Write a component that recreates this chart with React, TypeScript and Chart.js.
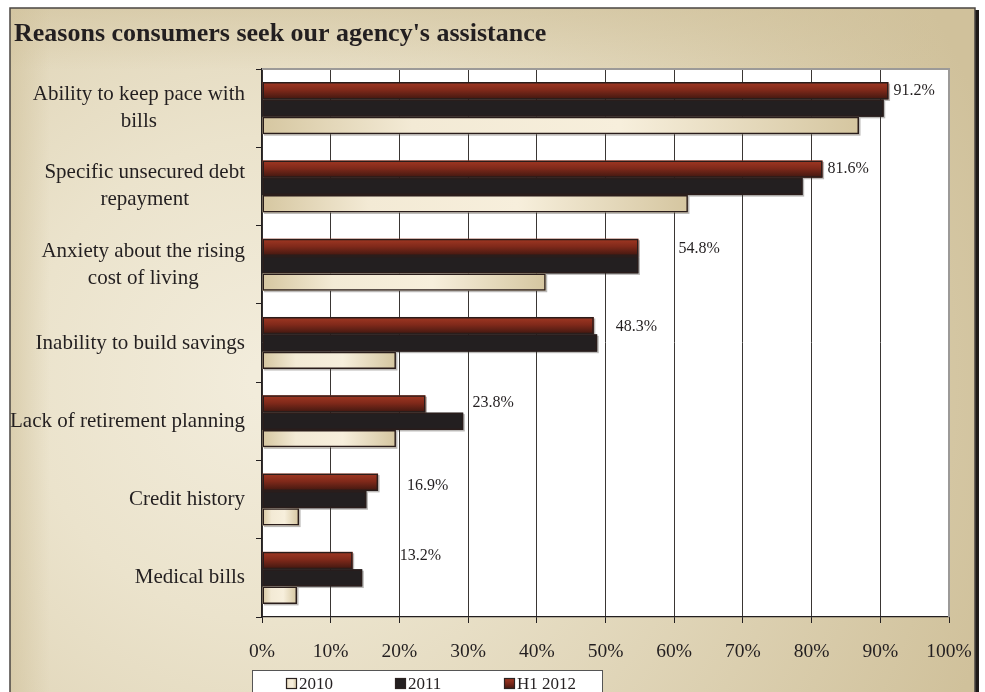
import React, { useEffect, useRef } from "react";
import { Chart, registerables } from "chart.js";

Chart.register(...registerables);

// ---------- data ----------
const titleText = "Reasons consumers seek our agency's assistance";
const categories: string[][] = [
  ["Ability to keep pace with", "bills"],
  ["Specific unsecured debt", "repayment"],
  ["Anxiety about the rising", "cost of living"],
  ["Inability to build savings"],
  ["Lack of retirement planning"],
  ["Credit history"],
  ["Medical bills"],
];
const seriesNames = ["H1 2012", "2011", "2010"];
const valuesH12012 = [91.2, 81.6, 54.8, 48.3, 23.8, 16.9, 13.2];
const values2011 = [90.5, 78.7, 54.8, 48.8, 29.3, 15.2, 14.6];
const values2010 = [86.9, 62.0, 41.3, 19.5, 19.5, 5.4, 5.1];
const xTickValues = [0, 10, 20, 30, 40, 50, 60, 70, 80, 90, 100];
const legendOrder = ["2010", "2011", "H1 2012"];

// ---------- style ----------
const SERIF = "'Liberation Serif', 'Times New Roman', serif";
const INK = "#231f20";
const labelDx = [5, 5, 40, 22, 47, 29, 47];
const labelDy = [0, 0, 1, 1, -1, 4, -5];

function fillBar(ctx: CanvasRenderingContext2D, seriesIdx: number, x0: number, y0: number, w: number, h: number) {
  let fill: string | CanvasGradient;
  if (seriesIdx === 0) {
    const g = ctx.createLinearGradient(0, y0, 0, y0 + h);
    g.addColorStop(0, "#a23823");
    g.addColorStop(0.45, "#80291a");
    g.addColorStop(1, "#3e1710");
    fill = g;
  } else if (seriesIdx === 1) {
    fill = INK;
  } else {
    const g = ctx.createLinearGradient(x0, 0, x0 + w, 0);
    g.addColorStop(0, "#d6c7a1");
    g.addColorStop(0.25, "#f3ead5");
    g.addColorStop(0.6, "#f7efdc");
    g.addColorStop(1, "#d5c6a0");
    fill = g;
  }
  ctx.fillStyle = fill;
  ctx.fillRect(x0, y0, w, h);
}

const decorPlugin = {
  id: "decor",
  beforeDraw(chart: any) {
    const ctx: CanvasRenderingContext2D = chart.ctx;
    const W = chart.width;
    const H = chart.height;
    const ca = chart.chartArea;
    ctx.save();
    ctx.fillStyle = "#ffffff";
    ctx.fillRect(0, 0, W, H);
    // right shadow
    ctx.fillStyle = "#1e1a18";
    ctx.fillRect(974, 10, 5, H);
    // panel
    const g = ctx.createRadialGradient(270, 380, 20, 270, 380, 760);
    g.addColorStop(0, "#f2ecdb");
    g.addColorStop(0.3, "#ebe3cc");
    g.addColorStop(1, "#d0c19b");
    ctx.fillStyle = g;
    ctx.fillRect(10, 8, 965, H);
    // slightly darker top band
    const tg = ctx.createLinearGradient(0, 8, 0, 70);
    tg.addColorStop(0, "rgba(208,193,155,0.55)");
    tg.addColorStop(1, "rgba(208,193,155,0)");
    ctx.fillStyle = tg;
    ctx.fillRect(10, 8, 965, 62);
    const lg = ctx.createLinearGradient(10, 0, 50, 0);
    lg.addColorStop(0, "rgba(208,193,155,0.6)");
    lg.addColorStop(1, "rgba(208,193,155,0)");
    ctx.fillStyle = lg;
    ctx.fillRect(10, 8, 40, H);
    ctx.strokeStyle = "#4a4542";
    ctx.lineWidth = 1.5;
    ctx.strokeRect(10, 8, 965, H + 10);
    // title
    ctx.fillStyle = INK;
    ctx.font = `bold 26px ${SERIF}`;
    ctx.textBaseline = "alphabetic";
    ctx.textAlign = "left";
    ctx.fillText(titleText, 14, 41);
    // plot area bg
    ctx.fillStyle = "#ffffff";
    ctx.fillRect(ca.left, ca.top, ca.right - ca.left, ca.bottom - ca.top);
    ctx.restore();
  },
  beforeDatasetsDraw(chart: any) {
    const ctx: CanvasRenderingContext2D = chart.ctx;
    ctx.save();
    // shadows
    chart.data.datasets.forEach((_: any, di: number) => {
      const meta = chart.getDatasetMeta(di);
      meta.data.forEach((el: any) => {
        const x0 = Math.min(el.base, el.x);
        const w = Math.abs(el.x - el.base);
        ctx.fillStyle = "rgba(60,55,50,0.35)";
        ctx.fillRect(x0 + 1.5, el.y - el.height / 2 + 1.5, w, el.height);
      });
    });
    chart.data.datasets.forEach((_: any, di: number) => {
      const meta = chart.getDatasetMeta(di);
      meta.data.forEach((el: any) => {
        const x0 = Math.min(el.base, el.x);
        const w = Math.abs(el.x - el.base);
        fillBar(ctx, di, x0, el.y - el.height / 2, w, el.height);
      });
    });
    ctx.restore();
  },
  afterDatasetsDraw(chart: any) {
    const ctx: CanvasRenderingContext2D = chart.ctx;
    const meta = chart.getDatasetMeta(0);
    ctx.save();
    ctx.fillStyle = INK;
    ctx.font = `16px ${SERIF}`;
    ctx.textAlign = "left";
    ctx.textBaseline = "middle";
    meta.data.forEach((el: any, i: number) => {
      const v = valuesH12012[i];
      ctx.fillText(v.toFixed(1) + "%", el.x + labelDx[i], el.y + labelDy[i]);
    });
    ctx.restore();
  },
  afterDraw(chart: any) {
    const ctx: CanvasRenderingContext2D = chart.ctx;
    const ca = chart.chartArea;
    const yScale = chart.scales.y;
    ctx.save();
    // plot border top/right
    ctx.strokeStyle = "#9c9a98";
    ctx.lineWidth = 2;
    ctx.beginPath();
    ctx.moveTo(ca.left, ca.top);
    ctx.lineTo(ca.right, ca.top);
    ctx.lineTo(ca.right, ca.bottom);
    ctx.stroke();
    // category labels
    ctx.fillStyle = INK;
    ctx.font = `21px ${SERIF}`;
    ctx.textAlign = "center";
    ctx.textBaseline = "middle";
    const rightEdge = ca.left - 17;
    const lh = 27;
    categories.forEach((lines, i) => {
      const cy = yScale.getPixelForValue(i);
      const maxW = Math.max(...lines.map((l) => ctx.measureText(l).width));
      const cx = rightEdge - maxW / 2;
      lines.forEach((l, k) => {
        ctx.fillText(l, cx, cy + (k - (lines.length - 1) / 2) * lh);
      });
    });
    // legend
    ctx.fillStyle = "#ffffff";
    ctx.fillRect(252.5, 670.5, 350, 40);
    ctx.strokeStyle = "#555";
    ctx.lineWidth = 1;
    ctx.strokeRect(252.5, 670.5, 350, 40);
    const legendX = [286, 395, 504];
    legendOrder.forEach((name, k) => {
      const sIdx = seriesNames.indexOf(name);
      const sx = legendX[k];
      fillBar(ctx, sIdx, sx, 678, 11, 11);
      ctx.strokeStyle = "#2b2220";
      ctx.lineWidth = 1.2;
      ctx.strokeRect(sx + 0.5, 678.5, 10, 10);
      ctx.fillStyle = INK;
      ctx.font = `17px ${SERIF}`;
      ctx.textAlign = "left";
      ctx.textBaseline = "alphabetic";
      ctx.fillText(name, sx + 13, 689);
    });
    ctx.restore();
  },
};

export default function App() {
  const canvasRef = useRef<HTMLCanvasElement | null>(null);

  useEffect(() => {
    document.body.style.margin = "0";
    const canvas = canvasRef.current;
    if (!canvas) return;
    const values = [valuesH12012, values2011, values2010];
    const chart = new Chart(canvas, {
      type: "bar",
      data: {
        labels: categories,
        datasets: seriesNames.map((name, i) => ({
          label: name,
          data: values[i],
          backgroundColor: "rgba(0,0,0,0)",
          borderColor: "#2a1d1b",
          borderWidth: 1.5,
          borderSkipped: false,
          categoryPercentage: 0.665,
          barPercentage: 1,
        })),
      },
      options: {
        indexAxis: "y",
        responsive: false,
        animation: false,
        devicePixelRatio: 1,
        layout: { padding: { left: 0, right: 36, top: 69, bottom: 0 } },
        plugins: {
          legend: { display: false },
          title: { display: false },
          tooltip: { enabled: false },
        },
        scales: {
          x: {
            min: 0,
            max: 100,
            afterBuildTicks: (scale: any) => {
              scale.ticks = xTickValues.map((v) => ({ value: v }));
            },
            afterFit: (scale: any) => {
              scale.height = 75;
              scale.paddingLeft = 0;
              scale.paddingRight = 0;
            },
            grid: {
              color: "#3a3634",
              lineWidth: 1,
              drawTicks: true,
              tickLength: 6,
              tickColor: INK,
            },
            border: { display: true, color: INK, width: 1.2 },
            ticks: {
              callback: (v: any) => v + "%",
              font: { family: SERIF, size: 19.5 },
              color: INK,
              padding: 17,
              maxRotation: 0,
              autoSkip: false,
            },
          },
          y: {
            type: "category",
            afterFit: (scale: any) => {
              scale.width = 262;
            },
            grid: {
              display: true,
              offset: true,
              drawOnChartArea: false,
              drawTicks: true,
              tickLength: 6,
              color: INK,
              tickColor: INK,
            },
            border: { display: true, color: INK, width: 1.2 },
            ticks: { display: false },
          },
        },
      },
      plugins: [decorPlugin],
    });
    return () => chart.destroy();
  }, []);

  return (
    <div style={{ width: 985, height: 692, position: "relative" }}>
      <canvas ref={canvasRef} width={985} height={692} style={{ display: "block" }} />
    </div>
  );
}
